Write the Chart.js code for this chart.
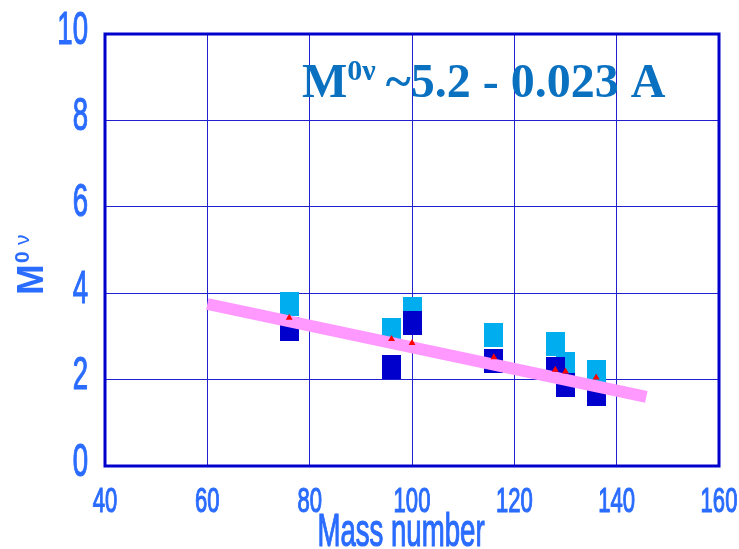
<!DOCTYPE html>
<html>
<head>
<meta charset="utf-8">
<script src="https://cdn.jsdelivr.net/npm/chart.js@4.4.0/dist/chart.umd.min.js"></script>
<style>
  body { margin: 0; background: #fff; }
  #wrap { width: 739px; height: 549px; }
</style>
</head>
<body>
<div id="wrap"><canvas id="massChart"></canvas></div>
<script>
// values
const massNumbers = [76, 96, 100, 116, 128, 130, 136];
const upperValues = [3.75, 3.15, 3.63, 3.03, 2.83, 2.37, 2.18];
const lowerValues = [3.17, 2.29, 3.31, 2.44, 2.24, 1.87, 1.66];
const redValues = [3.43, 2.94, 2.85, 2.52, 2.23, 2.19, 2.05];
const fitMass = [60, 145.8];
const fitValues = [3.75, 1.6];
const xRange = [40, 160];
const yRange = [0, 10];

const labelBlue = '#2a6cff';
const sans = '"Liberation Sans", Arial, sans-serif';

function makeBox(color) {
  const c = document.createElement('canvas');
  c.width = 19;
  c.height = 24;
  const g = c.getContext('2d');
  g.fillStyle = color;
  g.fillRect(0, 0, 19, 24);
  return c;
}

function toPoints(xs, ys) {
  return xs.map((x, i) => ({ x: x, y: ys[i] }));
}

// the original uses a tall narrow gothic face, so squeeze the text sideways
function squeezed(ctx, text, x, y, sx, align) {
  ctx.save();
  ctx.translate(x, y);
  ctx.scale(sx, 1);
  ctx.textAlign = align;
  ctx.fillText(text, 0, 0);
  ctx.strokeText(text, 0, 0);
  ctx.restore();
}

const extrasPlugin = {
  id: 'extras',
  afterDatasetsDraw(chart) {
    const ctx = chart.ctx;
    const a = chart.chartArea;
    ctx.save();

    // thick frame round the plot
    ctx.strokeStyle = '#0000cc';
    ctx.lineWidth = 3;
    ctx.strokeRect(a.left, a.top, a.right - a.left, a.bottom - a.top);

    // formula text
    ctx.fillStyle = '#0a70c0';
    ctx.textBaseline = 'alphabetic';
    ctx.textAlign = 'left';
    let x = a.left + 197;
    const y = a.top + 63;
    ctx.font = 'bold 48px "Liberation Serif", serif';
    ctx.fillText('M', x, y);
    x += ctx.measureText('M').width;
    ctx.font = 'bold 30px "Liberation Serif", serif';
    ctx.fillText('0ν', x, y - 17);
    x += ctx.measureText('0ν').width + 10;
    ctx.font = 'bold 48px "Liberation Serif", serif';
    ctx.fillText('~5.2 - 0.023 A', x, y);
    ctx.restore();
  },
  afterDraw(chart) {
    const ctx = chart.ctx;
    const xs = chart.scales.x;
    const ys = chart.scales.y;
    ctx.save();
    ctx.fillStyle = labelBlue;
    ctx.strokeStyle = labelBlue;
    ctx.lineWidth = 1.2;
    ctx.textBaseline = 'alphabetic';

    // tick labels, placed from the library's scales
    ctx.font = '46px ' + sans;
    ys.ticks.forEach(t => {
      squeezed(ctx, String(t.value), ys.right - 17, ys.getPixelForValue(t.value) + 9.5, 0.6, 'right');
    });
    ctx.font = '35px ' + sans;
    xs.ticks.forEach(t => {
      squeezed(ctx, String(t.value), xs.getPixelForValue(t.value), xs.top + 46, 0.63, 'center');
    });

    // axis titles
    ctx.font = '46px ' + sans;
    squeezed(ctx, 'Mass number', 401, 546, 0.6, 'center');

    ctx.translate(43, 295);
    ctx.rotate(-Math.PI / 2);
    ctx.textAlign = 'left';
    ctx.font = 'bold 37px ' + sans;
    ctx.fillText('M', 0, 0);
    ctx.font = 'bold 21px ' + sans;
    ctx.fillText('0', 32, -14);
    ctx.font = '21px ' + sans;
    ctx.fillText('ν', 50, -14);
    ctx.restore();
  }
};

const ctx = document.getElementById('massChart').getContext('2d');

new Chart(ctx, {
  type: 'scatter',
  data: {
    datasets: [
      {
        label: 'red',
        data: toPoints(massNumbers, redValues),
        pointStyle: 'triangle',
        pointRadius: 4,
        backgroundColor: '#ff0000',
        borderColor: '#ff0000',
        borderWidth: 0,
        order: 0
      },
      {
        type: 'line',
        label: 'fit',
        data: toPoints(fitMass, fitValues),
        borderColor: '#ff99ff',
        borderWidth: 12,
        borderCapStyle: 'butt',
        pointRadius: 0,
        fill: false,
        order: 1
      },
      {
        label: 'lower',
        data: toPoints(massNumbers, lowerValues),
        pointStyle: makeBox('#0000cc'),
        order: 3
      },
      {
        label: 'upper',
        data: toPoints(massNumbers, upperValues),
        pointStyle: makeBox('#00aeef'),
        order: 4
      }
    ]
  },
  options: {
    responsive: true,
    maintainAspectRatio: false,
    animation: false,
    layout: {
      padding: { top: 34, right: 20, left: 0, bottom: 0 }
    },
    plugins: {
      legend: { display: false },
      tooltip: { enabled: false }
    },
    scales: {
      x: {
        type: 'linear',
        min: xRange[0],
        max: xRange[1],
        ticks: { stepSize: 20, display: false },
        grid: { color: '#2020d0', lineWidth: 1, drawTicks: false },
        border: { display: false },
        afterFit(scale) {
          scale.height = 83;
          scale.paddingLeft = 0;
          scale.paddingRight = 0;
        }
      },
      y: {
        min: yRange[0],
        max: yRange[1],
        ticks: { stepSize: 2, display: false },
        grid: { color: '#2020d0', lineWidth: 1, drawTicks: false },
        border: { display: false },
        afterFit(scale) {
          scale.width = 105;
          scale.paddingTop = 0;
          scale.paddingBottom = 0;
        }
      }
    }
  },
  plugins: [extrasPlugin]
});
</script>
</body>
</html>
